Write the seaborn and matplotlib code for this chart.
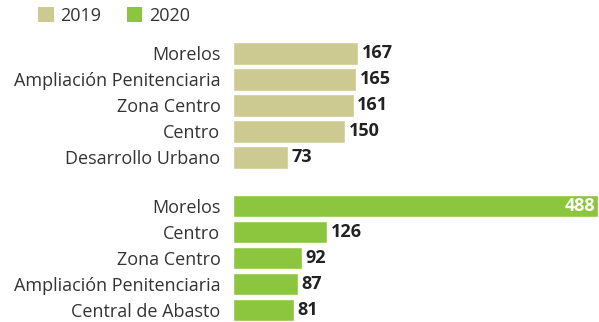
import matplotlib
matplotlib.use("Agg")
import matplotlib.pyplot as plt
from matplotlib.patches import Patch
import seaborn as sns
import pandas as pd

years = ["2019", "2020"]
cats_2019 = ["Morelos", "Ampliación Penitenciaria", "Zona Centro", "Centro", "Desarrollo Urbano"]
vals_2019 = [167, 165, 161, 150, 73]
cats_2020 = ["Morelos", "Centro", "Zona Centro", "Ampliación Penitenciaria", "Central de Abasto"]
vals_2020 = [488, 126, 92, 87, 81]

c2019 = "#cdca91"
c2020 = "#8cc63f"
text_col = "#333333"

sns.set_theme(style="white")
plt.rcParams["font.family"] = ["Open Sans", "DejaVu Sans"]

fig = plt.figure(figsize=(5.99, 3.22), dpi=100)
fig.patch.set_facecolor("white")

ax_left = 233 / 599
ax_w = 1 - ax_left
ax_h = 130 / 322
axes = [
    fig.add_axes([ax_left, 1 - 170.5 / 322, ax_w, ax_h]),
    fig.add_axes([ax_left, 1 - 323 / 322, ax_w, ax_h]),
]

xmax = 489
for ax, cats, vals, col in [(axes[0], cats_2019, vals_2019, c2019),
                            (axes[1], cats_2020, vals_2020, c2020)]:
    df = pd.DataFrame({"cat": cats, "val": vals})
    sns.barplot(data=df, x="val", y="cat", orient="h", color=col,
                saturation=1, width=0.88, ax=ax)
    ax.set_xlim(0, xmax)
    ax.set_ylim(len(cats) - 0.5, -0.5)
    ax.set_xlabel("")
    ax.set_ylabel("")
    ax.set_xticks([])
    ax.tick_params(axis="y", length=0, pad=9, labelsize=13, labelcolor=text_col)
    for s in ax.spines.values():
        s.set_visible(False)
    ax.set_facecolor("none")
    for i, v in enumerate(vals):
        if v > 400:
            ax.text(v - 4, i, str(v), ha="right", va="center", color="white",
                    fontsize=13, fontweight="bold")
        else:
            ax.text(v + 5, i, str(v), ha="left", va="center", color="#222222",
                    fontsize=13, fontweight="bold")

handles = [Patch(facecolor=c2019, edgecolor="none"), Patch(facecolor=c2020, edgecolor="none")]
fig.legend(handles, years, loc="upper left", bbox_to_anchor=(22 / 599, 1.03),
           ncol=2, frameon=False, fontsize=13, handlelength=0.85, handleheight=0.85,
           handletextpad=0.35, columnspacing=1.45, labelcolor=text_col)

fig.savefig("out.png", dpi=100, facecolor="white")
